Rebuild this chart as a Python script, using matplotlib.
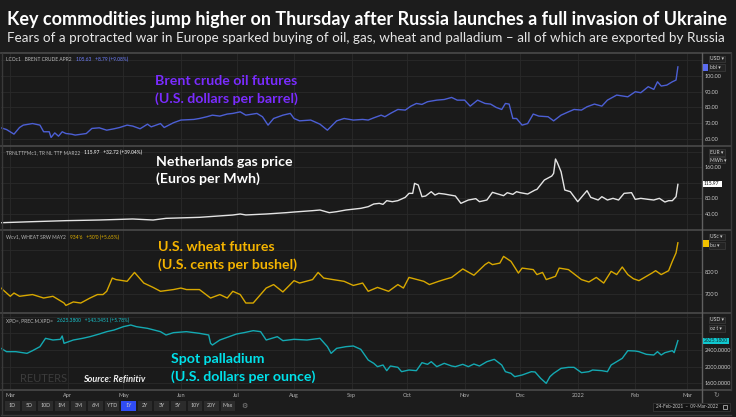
import numpy as np
import matplotlib.pyplot as plt
from matplotlib.patches import Rectangle
from matplotlib.lines import Line2D

plt.rcParams['font.family'] = ['Lato', 'DejaVu Sans']

# days are counted from 24-Feb-2021, the first date on the chart
start = np.datetime64('2021-02-24')
x_end = np.datetime64('2022-03-09')

brent_day = [0, 3, 7, 10, 12, 17, 21, 23, 26, 27, 29, 31, 33, 35, 38, 40, 46, 49, 53, 57,
             61, 64, 68, 71, 75, 79, 81, 86, 88, 93, 97, 104, 107, 111, 114, 118, 122, 125, 129, 132,
             138, 141, 144, 147, 152, 156, 158, 161, 167, 172, 176, 181, 185, 190, 195,
             198, 201, 205, 207, 210, 214, 218, 221, 224, 227, 230, 235, 239, 243, 246, 250, 253, 257,
             261, 264, 267, 270, 272, 274, 276, 278, 281, 284, 287, 290, 295, 298, 302, 306, 309, 313,
             316, 320, 324, 327, 332, 338, 342, 345, 349, 352, 354, 356, 359, 362, 364, 365]
brent_usd = [67.1, 66.0, 63.1, 67.3, 68.8, 69.8, 68.8, 64.6, 64.6, 61.0, 63.9, 61.8, 64.6, 63.5, 63.1,
             62.5, 63.5, 66.7, 67.1, 65.6, 66.5, 67.3, 68.8, 68.2, 66.5, 69.4, 67.7, 69.8, 67.3, 70.3,
             72.0, 72.4, 73.0, 74.1, 75.1, 74.5, 75.8, 76.2, 77.2, 75.1, 76.2, 74.1, 68.8, 73.0, 75.1,
             76.2, 73.0, 71.5, 72.0, 69.4, 65.6, 71.5, 73.0, 72.0, 72.4,
             72.0, 73.4, 75.1, 74.1, 76.2, 78.7, 78.3, 80.8, 82.5, 81.9, 83.6, 84.6, 85.0, 86.3, 84.6,
             84.6, 80.8, 84.6, 82.5, 82.1, 80.0, 78.7, 82.5, 82.1, 73.0, 73.0, 68.8, 69.8, 75.8, 74.5,
             74.1, 71.5, 75.1, 77.2, 78.7, 78.3, 80.4, 82.1, 80.8, 84.6, 87.8, 86.7, 89.9, 89.3, 93.1,
             91.4, 96.2, 93.5, 94.1, 96.2, 97.3, 105.63]

gas_day = [0, 17, 35, 53, 71, 82, 89, 107, 125, 129, 132, 143, 154, 158, 168, 172, 177, 181, 186, 194,
           198, 201, 204, 206, 208, 211, 214, 218, 220, 222, 223, 225, 227, 229, 232, 234, 236, 239,
           242, 245, 248, 252, 254, 256, 258, 262, 265, 268, 271, 273, 276, 278, 280, 284, 288, 289,
           293, 297, 298, 299, 300, 302, 304, 307, 311, 314, 316, 318, 322, 324, 327, 330, 333, 336,
           340, 342, 345, 349, 352, 355, 358, 360, 362, 364, 365]
gas_eur = [17, 19.7, 22.3, 24, 26.6, 24, 28.3, 30.9, 36.9, 39.5, 37, 39.5, 43, 44.6, 48.1, 49.8, 43,
           45.5, 49.8, 54.1,
           58.4, 65.3, 67, 64.4, 73.9, 71.3, 73.9, 82.5, 92.8, 92.8, 118.6, 114.3, 84.2, 86, 97.1,
           88.5, 92.8, 91.1, 88.5, 86, 67, 75.6, 77.3, 79.1, 71.3, 75.6, 95.4, 91.1, 86.8, 94.5,
           90.2, 97.1, 94.5, 91.1, 101.4, 103.1, 127.2, 137.5, 144.4, 181.4, 172, 148.7, 101.4, 97.1,
           71.3, 88.5, 99.7, 82.5, 75.6, 84.2, 75.6, 79.9, 75.6, 92.8, 94.5, 77.3, 79.9, 77.3, 75.6,
           79.9, 70.4, 73.9, 73.9, 84.2, 115.97]

wheat_day = [0, 5, 7, 10, 17, 23, 28, 34, 35, 39, 43, 48, 52, 55, 57, 60, 62, 68, 71, 72, 77, 82, 86,
             93, 97, 100, 107, 113, 118, 122, 125, 129, 132, 136, 143, 147, 152, 158, 161, 168, 171,
             174, 179, 185, 190, 195,
             198, 203, 209, 214, 217, 220, 228, 231, 236, 239, 243, 249, 255, 261, 263, 265, 269, 271,
             275, 279, 281, 287, 289, 292, 294, 299, 301, 306, 313, 317, 321, 325, 329, 332, 335, 338,
             341, 344, 351, 353, 356, 360, 362, 364, 365]
wheat_cents = [726, 688, 703, 688, 696, 680, 688, 657, 646, 662, 657, 680, 696, 696, 711, 772, 765,
               757, 788, 798, 749, 729, 711, 719, 726, 719, 719, 680, 696, 680, 711, 696, 657, 657,
               726, 742, 708, 760, 749, 765, 798, 772, 765, 757, 738, 749,
               711, 729, 711, 742, 726, 775, 757, 742, 757, 765, 775, 814, 785, 834, 845, 834, 841,
               872, 849, 795, 818, 811, 788, 798, 765, 780, 818, 811, 765, 754, 775, 749, 803, 788,
               823, 788, 769, 760, 795, 806, 788, 806, 849, 888, 934.75]

pall_day = [0, 3, 8, 14, 17, 21, 24, 28, 32, 33, 34, 39, 44, 48, 53, 57, 61, 66, 70, 73, 79, 86, 89,
            93, 100, 107, 112, 113, 114, 118, 123, 127, 131, 136, 140, 143, 149, 152, 158, 165, 172,
            176, 178, 181, 186, 190, 194,
            198, 201, 203, 206, 208, 210, 214, 216, 220, 224, 227, 230, 232, 235, 239, 243, 245, 249,
            252, 255, 258, 262, 266, 270, 272, 275, 277, 281, 286, 288, 291, 294, 296, 298, 302, 306,
            309, 313, 317, 319, 324, 327, 329, 335, 338, 342, 344, 348, 352, 354, 356, 358, 360, 362,
            363, 365]
pall_usd = [2440, 2360, 2360, 2320, 2384, 2480, 2680, 2640, 2656, 2736, 2560, 2640, 2680, 2720, 2784,
            2840, 2880, 2960, 3000, 2960, 2920, 2840, 2760, 2816, 2840, 2800, 2760, 2560, 2520, 2640,
            2720, 2784, 2816, 2864, 2840, 2640, 2720, 2624, 2656, 2640, 2680, 2480, 2320, 2440, 2480,
            2496, 2416,
            2160, 2080, 2000, 2040, 1904, 2016, 1984, 1880, 1920, 1904, 2096, 2056, 2120, 2000, 2080,
            2016, 2000, 2056, 2000, 2064, 2016, 2120, 2176, 2040, 1880, 1840, 1760, 1800, 1880, 1872,
            1720, 1600, 1760, 1840, 1960, 1984, 1984, 1856, 1880, 1920, 1904, 1880, 2040, 2200, 2384,
            2376, 2360, 2296, 2280, 2360, 2280, 2336, 2360, 2384, 2336, 2625.18]

months = ['2021-03-01', '2021-04-01', '2021-05-01', '2021-06-01', '2021-07-01', '2021-08-01',
          '2021-09-01', '2021-10-01', '2021-11-01', '2021-12-01', '2022-01-01', '2022-02-01',
          '2022-03-01']
month_names = ['Mar', 'Apr', 'May', 'Jun', 'Jul', 'Aug', 'Sep', 'Oct', 'Nov', 'Dec', '2022', 'Feb', 'Mar']
buttons = ['1D', '5D', '10D', '1M', '3M', '6M', 'YTD', '1Y', '2Y', '3Y', '5Y', '10Y', '20Y', 'Max']

W, H = 736, 417
fig = plt.figure(figsize=(W / 100, H / 100), dpi=100, facecolor='#1c1c1c')


def box(x0, y0, x1, y1, **kw):
    fig.add_artist(Rectangle((x0 / W, 1 - y1 / H), (x1 - x0) / W, (y1 - y0) / H,
                             transform=fig.transFigure, **kw))


def line(xs, ys, **kw):
    fig.add_artist(Line2D([x / W for x in xs], [1 - y / H for y in ys],
                          transform=fig.transFigure, **kw))


def text(x, y, s, **kw):
    return fig.text(x / W, 1 - y / H, s, **kw)


def panel(top, bottom, day, vals, color, ylim, ticks, labels):
    ax = fig.add_axes([1 / W, 1 - bottom / H, 701 / W, (bottom - top) / H])
    ax.set_facecolor('#1a1a1a')
    ax.plot(start + np.array(day, dtype='timedelta64[D]'), vals, color=color, lw=1.0)
    ax.set_xlim(start, x_end)
    ax.set_ylim(ylim)
    ax.set_xticks(np.array(months, dtype='datetime64[D]'))
    ax.set_yticks(ticks, labels)
    ax.yaxis.tick_right()
    ax.tick_params(length=0, labelsize=4, labelcolor='#c8c8c8', labelbottom=False)
    ax.tick_params(axis='y', pad=2.2)
    ax.grid(color='#2a2a2a', lw=0.6)
    for s in ax.spines.values():
        s.set_visible(False)
    return ax


# title block
text(7, 24.5, 'Key commodities jump higher on Thursday after Russia launches a full invasion of Ukraine',
     fontsize=13, fontweight='bold', color='white', va='baseline')
text(7, 41.5, 'Fears of a protracted war in Europe sparked buying of oil, gas, wheat and palladium '
     '\u2013 all of which are exported by Russia', fontsize=9.7, color='#e6e6e6', va='baseline')

panel(53, 146, brent_day, brent_usd, '#4c5fd4', (55.6, 114.4),
      [60, 70, 80, 90, 100, 110], ['60.00', '70.00', '80.00', '90.00', '100.00', ''])
panel(146, 230, gas_day, gas_eur, '#e4e4e4', (-1.8, 215),
      [40, 80, 120, 160, 200], ['40.00', '80.00', '', '160.00', ''])
panel(230, 313, wheat_day, wheat_cents, '#d8a800', (611, 993.5),
      [700, 800, 900], ["700'0", "800'0", ''])
ax = panel(313, 390, pall_day, pall_usd, '#14a9b2', (1440, 3288),
           [1600, 2000, 2400, 2800, 3200], ['1600.0000', '2000.0000', '2400.0000', '', ''])
ax.set_xticklabels(month_names)
ax.tick_params(axis='x', labelbottom=True, labelsize=4, labelcolor='#b0b0b0', pad=2.5)

# frame lines
for y in [53, 146, 230, 313, 390]:
    line([1, 731], [y, y], color='#4a4a4a', lw=1.2, zorder=4)
line([1, 731], [415, 415], color='#3a3a3a', lw=1.0, zorder=4)
line([1.5, 1.5], [53, 415], color='#3a3a3a', lw=1.0, zorder=4)
line([702, 702], [53, 402], color='#606060', lw=1.0, zorder=4)
line([731, 731], [53, 390], color='#3a3a3a', lw=1.0, zorder=4)

# instrument captions, the quote follows the name
info = [(59.7, 'LCOc1   BRENT CRUDE APR2', '105.63   +8.79 (+9.08%)', '#6f80ff'),
        (152.3, 'TRNLTTFMc1, TR NL TTF MAR22', '115.97   +32.72 (+39.04%)', '#ffffff'),
        (237, 'Wcv1, WHEAT SRW MAY2', "934'6   +50'0 (+5.65%)", '#e0b000'),
        (320.3, 'XPD=, PREC.M.XPD=', '2625.3800   +143.3451 (+5.78%)', '#19c3cc')]
for y, name, quote, c in info:
    t = text(6, y, name, fontsize=3.5, color='#b8b8b8', va='center')
    fig.add_artist(plt.Annotation(quote, xy=(1, 0.5), xycoords=t, xytext=(3, 0),
                                  textcoords='offset points', fontsize=3.5, color=c, va='center'))

# big coloured labels
labels = [(155, 85, 102.7, 'Brent crude oil futures', '(U.S. dollars per barrel)', '#7a2cff'),
          (156, 165.7, 183.3, 'Netherlands gas price', '(Euros per Mwh)', '#ffffff'),
          (158, 250.7, 269, 'U.S. wheat futures', '(U.S. cents per bushel)', '#f5b400'),
          (171, 363.3, 380.7, 'Spot palladium', '(U.S. dollars per ounce)', '#00e1ea')]
for x, y1, y2, l1, l2, c in labels:
    text(x, y1, l1, fontsize=10.2, fontweight='bold', color=c, va='baseline')
    text(x, y2, l2, fontsize=10.2, fontweight='bold', color=c, va='baseline')

text(20, 382, 'REUTERS', fontsize=8, color='#3c3c3c', va='baseline')
text(83, 381.7, 'Source: Refinitiv', fontsize=6.5, fontweight='bold', fontstyle='italic',
     color='#f0f0f0', va='baseline')

# value tags on the right axis
box(702.5, 64, 708, 70.5, facecolor='#5b6cf0', zorder=5)
box(702.5, 181, 722, 186.7, facecolor='white', zorder=5)
text(704, 183.9, '115.97', fontsize=3.6, color='#111111', va='center', zorder=6)
box(702.5, 240, 709, 246.5, facecolor='#f2c200', zorder=5)
box(702.5, 337.7, 729, 343.5, facecolor='#10c8d0', zorder=5)
text(704, 340.6, '2625.1800', fontsize=3.6, color='#103030', va='center', zorder=6)

# unit drop-downs
drops = [(55.7, 62.3, 'USD'), (64, 70.7, 'bbl'), (149, 155.5, 'EUR'), (156.7, 163.3, 'MWh'),
         (233.7, 240.3, 'USc'), (242, 248.7, 'bu'), (316.7, 322.7, 'USD'), (325, 331.7, 'oz t')]
for y0, y1, s in drops:
    box(708.5, y0, 724.5, y1, facecolor='#232323', edgecolor='#3c3c3c', lw=0.5, zorder=5)
    text(710, (y0 + y1) / 2, s + ' \u25be', fontsize=3.6, color='#d0d0d0', va='center', zorder=6)

# range buttons and date box
for i, b in enumerate(buttons):
    x0 = 5 + 16.6 * i
    box(x0, 401, x0 + 14.5, 410.5, facecolor='#2f4cf5' if b == '1Y' else '#2c2c2c', zorder=5)
    text(x0 + 7.25, 405.8, b, fontsize=3.8, color='#c8c8c8', ha='center', va='center', zorder=6)
text(244.5, 405.8, '\u2699', fontsize=5, color='#888888', ha='center', va='center')
text(716, 395, '\u21bb', fontsize=5, color='#888888', ha='center', va='center')
box(653, 402.5, 730, 411, facecolor='#141414', edgecolor='#3c3c3c', lw=0.5, zorder=5)
text(656, 406.8, '24-Feb-2021  \u2013  09-Mar-2022', fontsize=3.3, color='#c8c8c8',
     va='center', zorder=6)
box(722.5, 404.5, 727, 409, facecolor='none', edgecolor='#c8c8c8', lw=0.5, zorder=6)

fig.savefig('out.png', dpi=100, facecolor=fig.get_facecolor())
